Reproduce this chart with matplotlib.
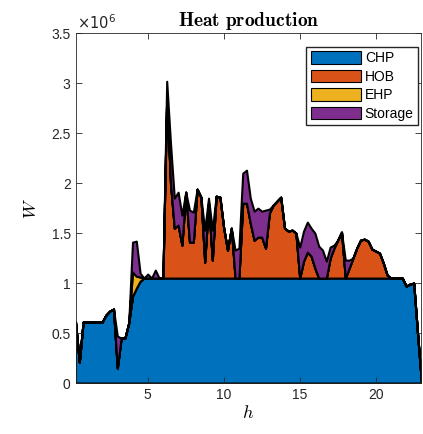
import numpy as np
import matplotlib
matplotlib.use("Agg")
import matplotlib.pyplot as plt
from matplotlib.patches import Patch

plt.rcParams['font.family'] = ['Liberation Sans', 'DejaVu Sans']
plt.rcParams['mathtext.fontset'] = 'cm'

# time axis: quarter hours 0.25 .. 23
hours = np.arange(1, 93) / 4

# heat per unit, in 1e6 W
chp = [0.61, 0.21, 0.61, 0.61, 0.61, 0.61, 0.61, 0.61, 0.68, 0.72,
       0.74, 0.15, 0.45, 0.45, 0.60, 0.87, 0.95, 1.02] + [1.05] * 69 + \
      [0.97, 0.99, 1.00, 0.50, 0.02]

hob = [0.0] * 24 + [1.80, 0.95, 0.50, 0.53, 0.33, 0.86, 0.36, 0.36, 0.89, 0.81,
                    0.16, 0.75, 0.18, 0.82, 0.81, 0.50, 0.28, 0.50, 0.00, 0.00,
                    0.75, 0.75, 0.55, 0.38, 0.41, 0.41, 0.30, 0.65, 0.73, 0.77,
                    0.81, 0.50, 0.47, 0.48, 0.45, 0.00, 0.17, 0.26, 0.22, 0.10,
                    0.00, 0.00, 0.00, 0.20, 0.30, 0.38, 0.46, 0.00, 0.10, 0.20,
                    0.30, 0.38, 0.39, 0.37, 0.29, 0.27, 0.25, 0.15, 0.03] + [0.0] * 9

ehp = [0.0] * 15 + [0.24, 0.12, 0.04] + [0.0] * 74

storage = [0.0] * 11 + [0.32, 0.0, 0.0, 0.0, 0.30, 0.35, 0.04, 0.0, 0.04,
                        0.0, 0.08, 0.0, 0.0, 0.17, 0.40, 0.30, 0.33, 0.30, 0.0,
                        0.32, 0.30, 0.0, 0.0, 0.32, 0.05, 0.30, 0.0, 0.0, 0.0,
                        0.0, 0.0, 0.28, 0.30, 0.30, 0.33, 0.25, 0.29, 0.29, 0.26,
                        0.38, 0.04, 0.0, 0.0, 0.0, 0.0, 0.0, 0.0, 0.0, 0.31,
                        0.30, 0.30, 0.28, 0.35, 0.32, 0.28, 0.17, 0.11, 0.03, 0.0,
                        0.0, 0.18, 0.08] + [0.0] * 19

labels = ['CHP', 'HOB', 'EHP', 'Storage']
colors = [(0, 0.447, 0.741), (0.85, 0.325, 0.098), (0.929, 0.694, 0.125), (0.494, 0.184, 0.556)]

fig = plt.figure(figsize=(4.23, 4.34), dpi=100)
ax = fig.add_axes([0.1785, 0.1175, 0.8175, 0.8058])

ax.stackplot(hours, chp, hob, ehp, storage, colors=colors,
             edgecolor='k', linewidth=1.5)

ax.set_xlim(0.25, 23)
ax.set_ylim(0, 3.5)
ax.set_xticks([5, 10, 15, 20])
ax.set_yticks(np.arange(0, 3.51, 0.5))
ax.set_yticklabels(['0', '0.5', '1', '1.5', '2', '2.5', '3', '3.5'])
ax.tick_params(direction='in', top=True, right=True, labelsize=10,
               length=4, width=0.6, colors='0.15')
for s in ax.spines.values():
    s.set_linewidth(0.6)
    s.set_color('0.15')

ax.set_title(r'$\mathbf{Heat\ production}$', fontsize=14, pad=5)
ax.set_xlabel(r'$h$', fontsize=13, labelpad=2)
ax.set_ylabel(r'$W$', fontsize=13, labelpad=8)
ax.text(0.005, 1.005, r'$\times10^6$', transform=ax.transAxes, ha='left', va='bottom',
        fontsize=10.5, color='0.15', math_fontfamily='dejavusans')

handles = [Patch(facecolor=c, edgecolor='k', linewidth=0.8) for c in colors]
ax.legend(handles, labels, loc='upper right', bbox_to_anchor=(0.99, 0.96),
          fontsize=10, fancybox=False, edgecolor='0.15', framealpha=1,
          handlelength=3.6, handleheight=1.0, labelspacing=0.32,
          handletextpad=0.3, borderpad=0.3, borderaxespad=0)

fig.savefig('out.png', dpi=100)
